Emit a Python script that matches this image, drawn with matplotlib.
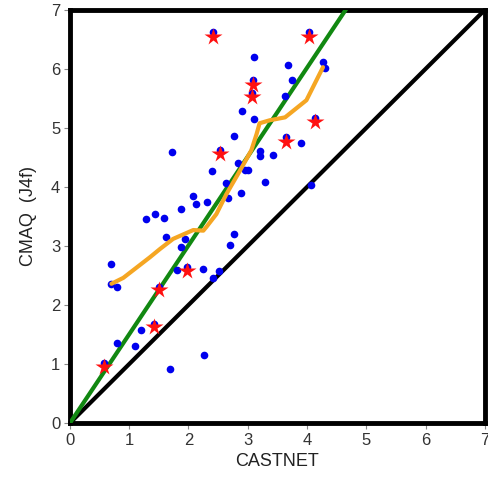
import matplotlib
matplotlib.use('Agg')
import matplotlib.pyplot as plt
import numpy as np

plt.rcParams['font.family'] = ['Liberation Sans', 'DejaVu Sans']

# blue dots: CASTNET vs CMAQ
castnet = [2.42, 4.03, 3.11, 3.68, 4.27, 4.31, 3.75, 3.09, 3.07, 3.63, 2.91, 3.10,
           4.13, 2.77, 3.65, 3.90, 1.73, 2.53, 3.20, 3.20, 3.43, 2.84, 2.39, 2.96,
           3.00, 3.29, 2.64, 4.06, 2.89, 2.08, 2.67, 2.12, 2.32, 1.88, 1.44, 1.59,
           1.28, 1.62, 1.94, 1.88, 2.77, 2.70, 0.70, 0.70, 0.80, 1.80, 1.97, 2.25,
           2.51, 2.41, 1.50, 1.20, 1.41, 0.79, 1.10, 2.26, 1.69, 0.58]
cmaq = [6.62, 6.62, 6.21, 6.07, 6.12, 6.02, 5.81, 5.81, 5.59, 5.54, 5.29, 5.16,
        5.17, 4.86, 4.84, 4.75, 4.60, 4.63, 4.61, 4.53, 4.54, 4.40, 4.27, 4.28,
        4.28, 4.09, 4.06, 4.04, 3.89, 3.85, 3.81, 3.71, 3.75, 3.62, 3.54, 3.47,
        3.45, 3.16, 3.11, 2.98, 3.20, 3.01, 2.70, 2.36, 2.31, 2.60, 2.65, 2.61,
        2.57, 2.46, 2.31, 1.58, 1.68, 1.35, 1.30, 1.16, 0.92, 1.01]

# red stars
star_x = [2.42, 4.03, 3.09, 3.07, 4.13, 3.65, 2.53, 1.97, 1.50, 1.41, 0.58]
star_y = [6.55, 6.55, 5.73, 5.52, 5.10, 4.77, 4.56, 2.58, 2.25, 1.62, 0.95]

# orange smooth curve
smooth_x = [0.70, 0.90, 1.35, 1.52, 1.74, 2.08, 2.25, 2.30, 2.47, 2.64, 2.87,
            3.06, 3.15, 3.20, 3.37, 3.63, 3.99, 4.27]
smooth_y = [2.36, 2.46, 2.81, 2.95, 3.12, 3.27, 3.26, 3.32, 3.54, 3.88, 4.28,
            4.62, 4.90, 5.08, 5.13, 5.18, 5.47, 6.03]

slope = 1.505

fig = plt.figure(figsize=(4.88, 4.90), dpi=100)
ax = fig.add_axes([0.1434, 0.1367, 0.850, 0.843])

ax.plot([0, 7], [0, 7], color='black', lw=3, zorder=2)
ax.plot([0, 7], [0, 7 * slope], color='#118811', lw=3, zorder=3)
ax.plot(castnet, cmaq, 'o', color='#0000ee', ms=5.5, mec='none', zorder=4)
ax.plot(smooth_x, smooth_y, color='#f5a623', lw=3, zorder=5,
        solid_capstyle='round', solid_joinstyle='round')
ax.plot(star_x, star_y, '*', color='#ff1010', ms=13, mec='none', zorder=6)

ax.set_xlim(0, 7)
ax.set_ylim(0, 7)
ax.set_xticks(range(8))
ax.set_yticks(range(8))
for s in ax.spines.values():
    s.set_linewidth(3.5)
ax.tick_params(direction='out', length=4, width=0.8, color='#888888',
               labelcolor='#333333', labelsize=12, pad=3)
ax.set_xlabel('CASTNET', fontsize=13, color='#222222', labelpad=4)
ax.set_ylabel('CMAQ  (J4f)', fontsize=13, color='#222222', labelpad=10)

fig.savefig('out.png', dpi=100)
